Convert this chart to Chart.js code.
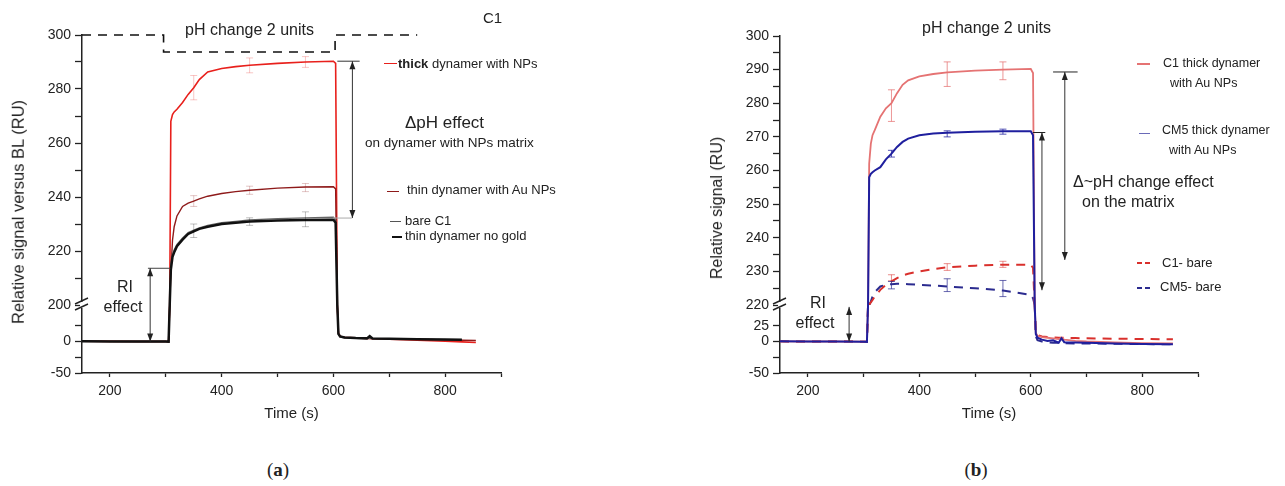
<!DOCTYPE html>
<html lang="en">
<head>
<meta charset="UTF-8">
<title>pH change response</title>
<script src="https://cdn.jsdelivr.net/npm/chart.js"></script>
<style>
    body {
        margin: 0;
        width: 1285px;
        height: 486px;
        position: relative;
        overflow: hidden;
        background: #fff;
        color: #222;
        font-family: "Liberation Sans", Arial, sans-serif;
    }
    canvas { position: absolute; top: 0; }
    #chartA { left: 0; }
    #chartB { left: 640px; }
    .lbl {
        position: absolute;
        white-space: nowrap;
        line-height: 1;
        transform: translateY(-50%);
    }
    .mid { transform: translate(-50%, -50%); }
    .ytitle {
        position: absolute;
        white-space: nowrap;
        line-height: 1;
        transform: translate(-50%, -50%) rotate(-90deg);
    }
    .key { position: absolute; height: 0; }
    .dash { position: absolute; height: 2px; }
    .panel {
        position: absolute;
        font-family: "Liberation Serif", "DejaVu Serif", serif;
        font-size: 19px;
        transform: translate(-50%, -50%);
    }
</style>
</head>
<body>
<canvas id="chartA" width="640" height="430"></canvas>
<canvas id="chartB" width="645" height="430"></canvas>

<!-- panel (a) texts -->
<div class="ytitle" style="left:18px; top:212px; font-size:16.5px;">Relative signal versus BL (RU)</div>
<div class="lbl" style="left:185px; top:30px; font-size:16px;">pH change 2 units</div>
<div class="lbl" style="left:483px; top:17px; font-size:15px;">C1</div>
<div class="key" style="left:384px; top:63px; width:13px; border-top:1.5px solid #e8201c;"></div>
<div class="lbl" style="left:398px; top:63px; font-size:13px;"><b>thick</b> dynamer with NPs</div>
<div class="lbl" style="left:405px; top:122px; font-size:17px;">ΔpH effect</div>
<div class="lbl" style="left:365px; top:143px; font-size:13.5px;">on dynamer with NPs matrix</div>
<div class="key" style="left:387px; top:191px; width:12px; border-top:1.5px solid #8e1a1a;"></div>
<div class="lbl" style="left:407px; top:189px; font-size:13px;">thin dynamer with Au NPs</div>
<div class="key" style="left:390px; top:221px; width:11px; border-top:1.3px solid #555;"></div>
<div class="lbl" style="left:405px; top:220px; font-size:13px;">bare C1</div>
<div class="key" style="left:392px; top:236px; width:10px; border-top:2.5px solid #111;"></div>
<div class="lbl" style="left:405px; top:235px; font-size:13px;">thin dynamer no gold</div>
<div class="lbl mid" style="left:125px; top:287px; font-size:16px;">RI</div>
<div class="lbl mid" style="left:123px; top:307px; font-size:16px;">effect</div>
<div class="panel" style="left:278px; top:470px;">(<b>a</b>)</div>

<!-- panel (b) texts -->
<div class="ytitle" style="left:717px; top:208px; font-size:16px;">Relative signal (RU)</div>
<div class="lbl" style="left:922px; top:28px; font-size:16px;">pH change 2 units</div>
<div class="key" style="left:1137px; top:63px; width:13px; border-top:2px solid #e57373;"></div>
<div class="lbl" style="left:1163px; top:63px; font-size:12.5px;">C1 thick dynamer</div>
<div class="lbl" style="left:1170px; top:83px; font-size:12.5px;">with Au NPs</div>
<div class="key" style="left:1139px; top:133px; width:11px; border-top:1.5px solid #6a6ab8;"></div>
<div class="lbl" style="left:1162px; top:130px; font-size:12.5px;">CM5 thick dynamer</div>
<div class="lbl" style="left:1169px; top:150px; font-size:12.5px;">with Au NPs</div>
<div class="lbl" style="left:1073px; top:182px; font-size:16px;">Δ~pH change effect</div>
<div class="lbl" style="left:1082px; top:202px; font-size:16px;">on the matrix</div>
<div class="dash" style="left:1137px; top:262px; width:13px; background:repeating-linear-gradient(90deg,#d9302c 0 5px,transparent 5px 8px);"></div>
<div class="lbl" style="left:1162px; top:262px; font-size:13px;">C1- bare</div>
<div class="dash" style="left:1137px; top:287px; width:13px; background:repeating-linear-gradient(90deg,#2b2b8f 0 5px,transparent 5px 8px);"></div>
<div class="lbl" style="left:1160px; top:286px; font-size:13px;">CM5- bare</div>
<div class="lbl mid" style="left:818px; top:303px; font-size:16px;">RI</div>
<div class="lbl mid" style="left:815px; top:323px; font-size:16px;">effect</div>
<div class="panel" style="left:976px; top:470px;">(<b>b</b>)</div>

<script>
// ---------- panel (a) data ----------
const baseTimeA = [150, 200, 250, 300, 305, 307];
const baseSignalA = [0.4, 0.2, 0, 0, -0.3, 58];
const riseTimeA = [307, 309, 312, 315, 320, 330, 340, 350, 360, 375, 400, 425, 450, 500, 550, 600, 604, 607];
const thickA   = [200, 268, 270.5, 271.5, 272.5, 275, 278, 280.5, 283.5, 286.3, 287.6, 288.3, 288.8, 289.5, 290, 290.3, 289.5, 200];
const thinAuA  = [200, 212, 224, 229, 233, 236.5, 237.7, 238.5, 239.3, 240.3, 241.3, 242, 242.5, 243.3, 243.7, 243.8, 243, 200];
const bareC1A  = [200, 215, 218.8, 220.5, 222.5, 224.8, 226.8, 227.7, 228.6, 229.5, 230.5, 231, 231.5, 232, 232.3, 232.5, 231.5, 200];
const noGoldA  = [200, 213, 217.8, 219.5, 221.8, 224.2, 226.3, 227.3, 228.2, 229, 230, 230.5, 230.9, 231.3, 231.5, 231.6, 230.5, 200];
const tailTimeA   = [607, 609, 612, 620, 640, 660, 665, 670, 700, 750, 800, 830, 855];
const thickTailA  = [58, 13, 8, 6.5, 5.5, 5, 5, 4.5, 3.5, 2, 0.5, -0.5, -1.5];
const thinAuTailA = [58, 13, 8.5, 7, 6, 5.5, 6, 5, 4.5, 3.5, 2.5, 2, 1.5];
const bareTailA   = [58, 11, 7, 6, 5, 4.8, 5, 4.5, 4, 3.5, 3, 2.8, null];
const noGoldTailA = [58, 12, 8, 6.5, 5.5, 5, 8.5, 4.8, 4.3, 3.8, 3.2, 2.8, null];
const stepTimeA  = [150, 296, 296, 603, 603, 750];
const stepLevelA = [300, 300, 293.7, 293.7, 300, 300];
const errTimeA = [350, 450, 550];
const thickErrLoA = [276, 286, 288],   thickErrHiA = [285, 291.5, 292];
const thinErrLoA  = [236.5, 241, 242], thinErrHiA  = [240.5, 244, 245];
const noGoldErrLoA = [225, 229.5, 229], noGoldErrHiA = [230, 232.3, 234.5];

// ---------- panel (b) data ----------
const baseTimeB = [150, 200, 250, 300, 306, 308];
const baseSignalB = [0.3, 0, 0, -0.2, -0.5, 58];
const riseTimeB = [308, 310, 313, 316, 320, 330, 340, 350, 360, 370, 380, 400, 425, 450, 500, 550, 600, 604, 607];
const c1ThickB  = [220, 262, 268, 270.5, 272, 276, 278.5, 280, 283, 285.5, 286.8, 288, 288.7, 289.2, 289.7, 290, 290.2, 289, 220];
const cm5ThickB = [220, 258, 259, 259.5, 260, 261, 263.3, 265, 267, 268.5, 269.5, 270.5, 271, 271.2, 271.5, 271.7, 271.7, 270.5, 220];
const c1BareB   = [null, 220, 220.8, 221.5, 222.5, 224.5, 226, 227, 228, 228.8, 229.3, 230, 230.7, 231.2, 231.7, 232, 232, 231, 220];
const cm5BareB  = [null, 220, 221, 222.5, 223.8, 225.5, 226, 226.2, 226.3, 226.3, 226.2, 226, 225.8, 225.5, 225, 224.3, 223, 222, 220];
const tailTimeB     = [607, 609, 612, 620, 630, 640, 650, 655, 660, 680, 700, 750, 800, 855];
const c1ThickTailB  = [58, 14, 9, 7, 6, 5, 4, 6, 3, 1, 0, -1.5, -2.5, -3];
const cm5ThickTailB = [58, 12, 6, 3, 1, 2, -2, 5, -1, -1.5, -2, -3, -4, -4.5];
const c1BareTailB   = [58, 15, 10, 8, 7, 6.5, 6, 6, 6, 5.5, 5, 4.5, 4, 3.5];
const cm5BareTailB  = [58, 8, 2, 0, -1, -2, -2, -2, -2.5, -3, -3, -3.5, -4, -4.5];
const errTimeB = [350, 450, 550];
const c1ThickErrLoB  = [274.6, 285, 287],    c1ThickErrHiB  = [284, 292.3, 292.3];
const cm5ThickErrLoB = [264, 270, 270.8],    cm5ThickErrHiB = [266, 271.8, 272.3];
const c1BareErrLoB   = [227.2, 230.3, 231.2], c1BareErrHiB  = [229, 232.3, 233];
const cm5BareErrLoB  = [224.8, 224, 222.5],  cm5BareErrHiB  = [227, 227.8, 227.3];

const FONT = '"Liberation Sans", Arial, sans-serif';
const INK = '#222';

function pts(ts, vs) {
    return ts.map((t, i) => ({ x: t, y: vs[i] }));
}
// lower (broken) segment: baseline, a gap while the signal is off-scale, then the tail
function lowPts(bt, bv, tt, tv) {
    return pts(bt, bv).concat([{ x: (bt[bt.length - 1] + tt[0]) / 2, y: null }], pts(tt, tv));
}

function series(upT, upV, lowData, color, width, dash) {
    const common = { borderColor: color, borderWidth: width, borderDash: dash || [], pointRadius: 0, tension: 0, fill: false };
    return [
        Object.assign({ data: pts(upT, upV), yAxisID: 'yUp' }, common),
        Object.assign({ data: lowData, yAxisID: 'yLow' }, common)
    ];
}

// error bars, guide lines, arrows and the axis break
const decor = {
    id: 'decor',
    afterDatasetsDraw(chart, args, o) {
        const ctx = chart.ctx;
        const X = v => chart.scales.x.getPixelForValue(v);
        const Y = (ax, v) => chart.scales[ax].getPixelForValue(v);
        ctx.save();
        o.errors.forEach(e => {
            ctx.strokeStyle = e.color;
            ctx.lineWidth = 1;
            e.t.forEach((t, i) => {
                const x = X(t), a = Y('yUp', e.lo[i]), b = Y('yUp', e.hi[i]);
                ctx.beginPath();
                ctx.moveTo(x, a); ctx.lineTo(x, b);
                ctx.moveTo(x - 3.5, a); ctx.lineTo(x + 3.5, a);
                ctx.moveTo(x - 3.5, b); ctx.lineTo(x + 3.5, b);
                ctx.stroke();
            });
        });
        o.rules.forEach(r => {
            const y = Y(r.axis, r.v);
            ctx.strokeStyle = r.color;
            ctx.lineWidth = 1;
            ctx.beginPath();
            ctx.moveTo(X(r.t0), y); ctx.lineTo(X(r.t1), y);
            ctx.stroke();
        });
        o.arrows.forEach(a => {
            const x = X(a.t), y1 = Y(a.from[0], a.from[1]), y2 = Y(a.to[0], a.to[1]);
            ctx.strokeStyle = '#333';
            ctx.fillStyle = '#222';
            ctx.lineWidth = 1;
            ctx.beginPath();
            ctx.moveTo(x, y1); ctx.lineTo(x, y2);
            ctx.stroke();
            [[y1, 1], [y2, -1]].forEach(([y, d]) => {
                ctx.beginPath();
                ctx.moveTo(x, y);
                ctx.lineTo(x - 3, y + d * 8);
                ctx.lineTo(x + 3, y + d * 8);
                ctx.closePath();
                ctx.fill();
            });
        });
        const x0 = chart.chartArea.left, yb = chart.scales.yUp.bottom;
        ctx.fillStyle = '#fff';
        ctx.fillRect(x0 - 2, yb - 3, 4, 6);
        ctx.strokeStyle = INK;
        ctx.lineWidth = 1.4;
        ctx.beginPath();
        ctx.moveTo(x0 - 7, yb - 1); ctx.lineTo(x0 + 6, yb - 7);
        ctx.moveTo(x0 - 7, yb + 5); ctx.lineTo(x0 + 6, yb - 1);
        ctx.stroke();
        ctx.restore();
    }
};

function buildOptions(cfg) {
    const tickFont = { family: FONT, size: 14 };
    const axisBorder = { display: true, color: INK, width: 1.5 };
    return {
        responsive: false,
        animation: false,
        devicePixelRatio: 1,
        layout: { padding: cfg.padding },
        plugins: { legend: { display: false }, tooltip: { enabled: false }, decor: cfg.decor },
        scales: {
            x: {
                type: 'linear', min: 150, max: 900,
                border: axisBorder,
                grid: { drawOnChartArea: false, tickLength: 4, color: INK, tickWidth: 1.3 },
                ticks: { stepSize: 100, includeBounds: false, padding: 6, color: INK, font: tickFont,
                    callback: v => (v % 200 === 0 ? v : '') },
                title: { display: true, text: 'Time (s)', color: INK, font: { family: FONT, size: 15 }, padding: { top: 0, bottom: 7 } },
                afterFit: s => { s.height = 57; }
            },
            // the left stack is laid out in reverse order, so the lower segment comes first
            yLow: {
                type: 'linear', position: 'left', stack: 'y', stackWeight: cfg.lowWeight,
                min: -50, max: 58,
                border: axisBorder,
                grid: { drawOnChartArea: false, tickLength: 7, tickWidth: 1.3,
                    tickColor: c => (c.tick && c.tick.value === 50 ? 'rgba(0,0,0,0)' : INK) },
                ticks: { stepSize: 25, includeBounds: false, autoSkip: false, padding: 4, color: INK, font: tickFont,
                    callback: v => (cfg.lowLabels.includes(v) ? v : '') },
                afterFit: s => { s.width = cfg.axisWidth; }
            },
            yUp: {
                type: 'linear', position: 'left', stack: 'y', stackWeight: cfg.upWeight,
                min: cfg.upMin, max: 300,
                border: axisBorder,
                grid: { drawOnChartArea: false, tickLength: 7, color: INK, tickWidth: 1.3 },
                ticks: { stepSize: cfg.upStep, includeBounds: false, autoSkip: false, padding: 4, color: INK, font: tickFont,
                    callback: v => (v % cfg.upLabel === 0 ? v : '') },
                afterFit: s => { s.width = cfg.axisWidth; }
            }
        }
    };
}

// ---------- chart (a) ----------
const lowBaseA = (tail) => lowPts(baseTimeA, baseSignalA, tailTimeA, tail);
new Chart(document.getElementById('chartA'), {
    type: 'line',
    data: {
        datasets: [
            Object.assign({ data: pts(stepTimeA, stepLevelA), yAxisID: 'yUp', borderColor: '#111', borderWidth: 1.6,
                borderDash: [9, 7], pointRadius: 0, clip: false }),
            ...series(riseTimeA, noGoldA, lowBaseA(noGoldTailA), '#111', 2.5),
            ...series(riseTimeA, bareC1A, lowBaseA(bareTailA), '#666', 1.3),
            ...series(riseTimeA, thinAuA, lowBaseA(thinAuTailA), '#8e1a1a', 1.4),
            ...series(riseTimeA, thickA, lowBaseA(thickTailA), '#e8201c', 1.6)
        ]
    },
    options: buildOptions({
        padding: { left: 0, right: 139, top: 35, bottom: 0 },
        axisWidth: 82, upMin: 200, upStep: 10, upLabel: 20, upWeight: 270, lowWeight: 68,
        lowLabels: [0, -50],
        decor: {
            errors: [
                { color: 'rgba(232,32,28,0.25)', t: errTimeA, lo: thickErrLoA, hi: thickErrHiA },
                { color: 'rgba(142,26,26,0.25)', t: errTimeA, lo: thinErrLoA, hi: thinErrHiA },
                { color: 'rgba(0,0,0,0.25)', t: errTimeA, lo: noGoldErrLoA, hi: noGoldErrHiA }
            ],
            rules: [
                { axis: 'yUp', v: 213.6, t0: 268, t1: 308, color: '#444' },
                { axis: 'yUp', v: 290.3, t0: 607, t1: 647, color: '#333' },
                { axis: 'yUp', v: 232.2, t0: 599, t1: 633, color: '#aaa' }
            ],
            arrows: [
                { t: 272, from: ['yUp', 213.6], to: ['yLow', 0] },
                { t: 634, from: ['yUp', 290.3], to: ['yUp', 232.2] }
            ]
        }
    }),
    plugins: [decor]
});

// ---------- chart (b) ----------
const lowBaseB = (tail) => lowPts(baseTimeB, baseSignalB, tailTimeB, tail);
new Chart(document.getElementById('chartB'), {
    type: 'line',
    data: {
        datasets: [
            ...series(riseTimeB, cm5ThickB, lowBaseB(cm5ThickTailB), '#1f1f9e', 2),
            ...series(riseTimeB, c1ThickB, lowBaseB(c1ThickTailB), '#e57373', 1.8),
            ...series(riseTimeB, c1BareB, lowBaseB(c1BareTailB), '#d9302c', 2, [9, 7]),
            ...series(riseTimeB, cm5BareB, lowBaseB(cm5BareTailB), '#2b2b8f', 2, [9, 7])
        ]
    },
    options: buildOptions({
        padding: { left: 0, right: 87, top: 36, bottom: 0 },
        axisWidth: 140, upMin: 220, upStep: 5, upLabel: 10, upWeight: 269, lowWeight: 68,
        lowLabels: [25, 0, -50],
        decor: {
            errors: [
                { color: 'rgba(229,115,115,0.75)', t: errTimeB, lo: c1ThickErrLoB, hi: c1ThickErrHiB },
                { color: 'rgba(31,31,158,0.75)', t: errTimeB, lo: cm5ThickErrLoB, hi: cm5ThickErrHiB },
                { color: 'rgba(217,48,44,0.55)', t: errTimeB, lo: c1BareErrLoB, hi: c1BareErrHiB },
                { color: 'rgba(43,43,143,0.7)', t: errTimeB, lo: cm5BareErrLoB, hi: cm5BareErrHiB }
            ],
            rules: [
                { axis: 'yUp', v: 289.3, t0: 640, t1: 684, color: '#222' },
                { axis: 'yUp', v: 271.3, t0: 604, t1: 626, color: '#222' }
            ],
            arrows: [
                { t: 274, from: ['yLow', 55], to: ['yLow', 0] },
                { t: 661, from: ['yUp', 289.3], to: ['yUp', 233.4] },
                { t: 620, from: ['yUp', 271.3], to: ['yUp', 224.4] }
            ]
        }
    }),
    plugins: [decor]
});
</script>
</body>
</html>
